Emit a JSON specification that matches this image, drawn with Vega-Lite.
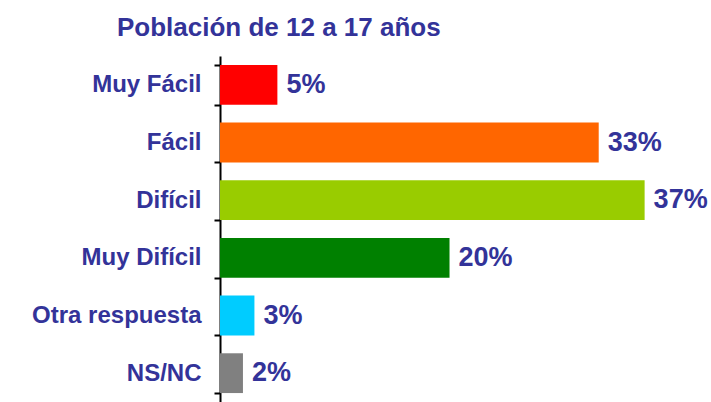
{
  "$schema": "https://vega.github.io/schema/vega-lite/v6.json",
  "autosize": {"type": "none"},
  "padding": {"left": 220, "top": 56, "right": 9, "bottom": 0},
  "width": 482,
  "height": 346,
  "background": "white",
  "config": {"view": {"stroke": null}},
  "title": {
    "text": "Población de 12 a 17 años",
    "anchor": "start",
    "frame": "group",
    "dx": -103,
    "dy": 37,
    "offset": 14,
    "baseline": "bottom",
    "font": "Liberation Sans",
    "fontSize": 26,
    "fontWeight": "bold",
    "color": "#333399"
  },
  "data": {
    "values": [
      {"cat": "Muy  Fácil", "pct": 0.05, "color": "#FF0000"},
      {"cat": "Fácil", "pct": 0.33, "color": "#FF6600"},
      {"cat": "Difícil", "pct": 0.37, "color": "#99CC00"},
      {"cat": "Muy Difícil", "pct": 0.20, "color": "#008000"},
      {"cat": "Otra respuesta", "pct": 0.03, "color": "#00CCFF"},
      {"cat": "NS/NC", "pct": 0.02, "color": "#808080"}
    ]
  },
  "encoding": {
    "y": {
      "field": "cat", "type": "nominal", "sort": null, "title": null,
      "scale": {"paddingInner": 0.31, "paddingOuter": 0.155},
      "axis": {
        "labelFont": "Liberation Sans",
        "labelFontSize": 24,
        "labelFontWeight": "bold",
        "labelColor": "#333399",
        "labelPadding": 13,
        "domainColor": "black",
        "domainWidth": 2,
        "tickColor": "black",
        "tickWidth": 2,
        "tickSize": 6,
        "tickBand": "extent"
      }
    },
    "x": {
      "field": "pct", "type": "quantitative", "axis": null,
      "scale": {"domain": [0, 0.42], "nice": false}
    }
  },
  "layer": [
    {
      "mark": {"type": "bar"},
      "encoding": {"color": {"field": "color", "type": "nominal", "scale": null}}
    },
    {
      "mark": {"type": "text", "align": "left", "baseline": "middle", "dx": 9, "font": "Liberation Sans", "fontSize": 27, "fontWeight": "bold", "color": "#333399"},
      "encoding": {"text": {"field": "pct", "type": "quantitative", "format": ".0%"}}
    }
  ]
}
